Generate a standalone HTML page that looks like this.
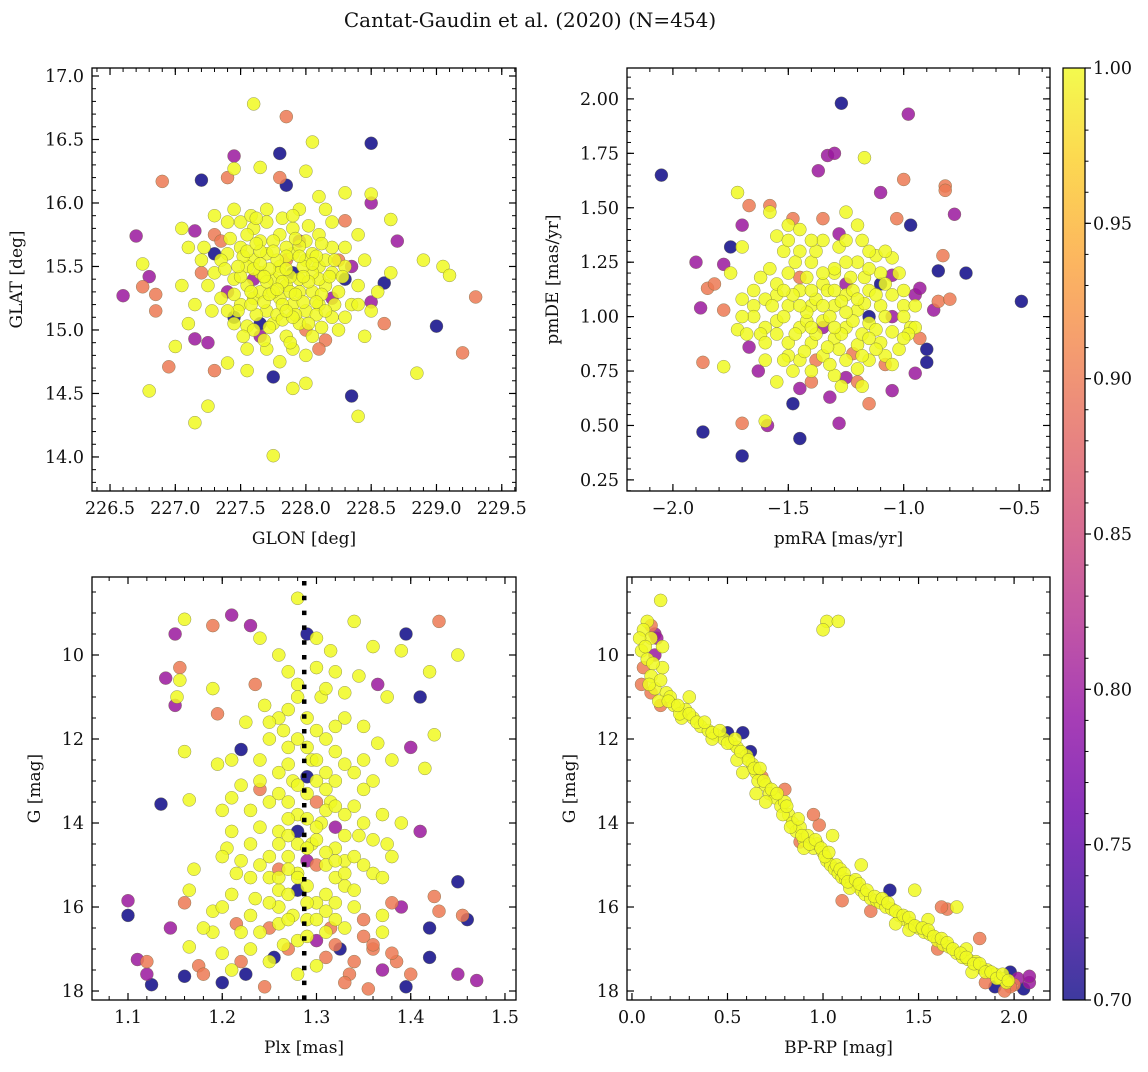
<!DOCTYPE html>
<html><head><meta charset="utf-8"><style>
body{margin:0;background:#fff;}
svg text{font-family:"DejaVu Serif","Liberation Serif",serif;fill:#111;}
</style></head><body>
<svg id="fig" width="1148" height="1067" viewBox="0 0 1148 1067" xmlns="http://www.w3.org/2000/svg">
<defs>
<linearGradient id="plasmaGrad" x1="0" y1="1" x2="0" y2="0">
<stop offset="0" stop-color="#0d0887"/><stop offset="0.1" stop-color="#41049d"/><stop offset="0.2" stop-color="#6a00a8"/><stop offset="0.3" stop-color="#8f0da4"/><stop offset="0.4" stop-color="#b12a90"/><stop offset="0.5" stop-color="#cc4778"/><stop offset="0.6" stop-color="#e16462"/><stop offset="0.7" stop-color="#f2844b"/><stop offset="0.8" stop-color="#fca636"/><stop offset="0.9" stop-color="#fcce25"/><stop offset="1" stop-color="#f0f921"/>
</linearGradient>
</defs>
<text x="530" y="27" text-anchor="middle" font-size="20">Cantat-Gaudin et al. (2020) (N=454)</text>
</svg>
<script>
// ---- data: [x, y, membership probability] ----
const skyPoints = [[227.6,16.78,1],[227.85,16.68,0.9],[228.05,16.48,1],[228.5,16.47,0.7],[227.45,16.37,0.8],[227.8,16.39,0.7],[227.2,16.18,0.7],[226.9,16.17,0.9],[227.4,16.2,0.9],[227.45,16.27,1],[227.65,16.28,1],[228.0,16.25,1],[227.8,16.2,0.9],[227.85,16.14,0.7],[228.5,16.07,1],[228.3,16.08,1],[228.5,16.0,0.8],[228.1,16.05,1],[226.7,15.74,0.8],[226.75,15.52,1],[226.8,15.42,0.8],[226.75,15.34,0.9],[226.6,15.27,0.8],[226.85,15.28,0.9],[226.85,15.15,0.9],[227.05,15.8,1],[227.15,15.78,0.8],[227.3,15.75,0.9],[227.0,14.87,1],[226.95,14.71,0.9],[226.8,14.52,1],[227.15,14.27,1],[227.25,14.4,1],[227.3,14.68,0.9],[227.4,14.74,1],[227.55,14.68,1],[227.75,14.63,0.7],[227.75,14.01,1],[227.9,14.54,1],[228.0,14.58,1],[228.35,14.48,0.7],[228.4,14.32,1],[228.15,14.92,0.9],[228.6,15.05,0.9],[228.6,15.37,0.7],[228.65,15.45,1],[228.7,15.7,0.8],[228.65,15.87,1],[228.9,15.55,1],[229.0,15.03,0.7],[229.05,15.5,1],[229.1,15.43,1],[229.2,14.82,0.9],[229.3,15.26,0.9],[228.85,14.66,1],[228.3,15.86,0.9],[228.5,15.22,0.8],[227.1,15.05,1],[227.15,14.93,0.8],[227.25,14.9,0.8],[227.45,15.1,0.7],[227.55,15.03,1],[227.65,15.05,0.7],
[227.5,15.85,1],[227.6,15.8,1],[227.7,15.85,1],[227.8,15.75,1],[227.9,15.8,1],[228.0,15.7,1],[228.1,15.75,1],[228.2,15.65,1],[227.4,15.6,1],[227.5,15.65,1],[227.6,15.55,1],[227.7,15.6,1],[227.8,15.5,1],[227.9,15.6,1],[228.0,15.55,1],[228.1,15.5,1],[228.2,15.45,1],[228.3,15.5,1],[227.3,15.45,1],[227.45,15.4,1],[227.55,15.35,1],[227.65,15.45,1],[227.75,15.4,1],[227.85,15.35,1],[227.95,15.4,1],[228.05,15.3,1],[228.15,15.35,1],[228.25,15.3,1],[228.4,15.35,1],[227.35,15.25,1],[227.5,15.2,1],[227.6,15.25,1],[227.7,15.15,1],[227.8,15.25,1],[227.9,15.2,1],[228.0,15.15,1],[228.1,15.2,1],[228.2,15.1,1],[228.35,15.2,1],[227.45,15.05,1],[227.6,15.0,1],[227.75,15.05,1],[227.85,14.95,1],[227.95,15.05,1],[228.05,14.95,1],[228.25,15.0,1],[227.7,14.85,1],[227.9,14.85,1],[228.0,14.8,1],[227.55,14.85,1],[227.8,14.75,1],[227.2,15.55,1],[227.1,15.65,1],[227.25,15.35,1],[227.15,15.2,1],[227.05,15.35,1],[228.45,15.55,1],[228.5,15.15,1],[228.55,15.3,1],[228.45,14.95,1],[228.3,15.65,1],[228.4,15.75,1],[227.3,15.9,1],[227.4,15.85,1],[227.95,15.95,1],[228.2,15.85,1],[227.65,15.7,1],[227.85,15.65,1],[228.05,15.6,1],[227.75,15.3,1],[227.65,15.3,1],[227.95,15.3,1],[228.1,15.4,1],[227.55,15.5,1],[227.35,15.55,1],[228.15,15.55,1],[227.8,15.45,1],[228.25,15.55,0.9],[227.85,15.55,0.9],[227.35,15.7,0.9],[227.6,15.4,0.8],[228.2,15.25,0.8],[227.9,15.45,0.7],[228.35,15.5,0.8],[227.2,15.45,0.9],[228.0,15.0,0.9],[227.65,14.95,0.8],[228.1,14.85,0.9],[227.4,15.3,0.8],[227.3,15.6,0.7],[227.95,15.7,0.8],[228.3,15.4,0.7]];
const skyCore = [[227.55,15.75,1],[227.65,15.62,1],[227.75,15.7,1],[227.85,15.58,1],[227.95,15.66,1],[228.05,15.45,1],[227.6,15.48,1],[227.7,15.38,1],[227.78,15.55,1],[227.88,15.42,1],[227.98,15.5,1],[228.08,15.58,1],[227.5,15.42,1],[227.58,15.3,1],[227.68,15.22,1],[227.78,15.12,1],[227.88,15.3,1],[227.98,15.22,1],[228.08,15.12,1],[228.18,15.42,1],[227.42,15.72,1],[227.52,15.58,1],[227.72,15.48,1],[227.82,15.38,1],[227.92,15.28,1],[228.02,15.38,1],[228.12,15.28,1],[228.22,15.2,1],[227.48,15.15,1],[227.62,15.12,1],[227.72,15.02,1],[227.82,15.08,1],[227.92,15.12,1],[228.02,15.05,1],[227.38,15.48,1],[227.45,15.28,1],[227.58,15.9,1],[227.7,15.95,1],[227.82,15.88,1],[227.92,15.72,1],[228.02,15.82,1],[228.12,15.68,1],[228.22,15.55,1],[228.28,15.42,1],[227.65,15.52,1],[227.75,15.62,1],[227.85,15.48,1],[227.95,15.58,1],[228.05,15.52,1],[227.55,15.62,1],[227.62,15.68,1],[227.72,15.28,1],[227.82,15.2,1],[227.9,15.1,1],[228.15,15.15,1],[227.4,15.15,1],[227.52,14.95,1],[227.68,14.92,1],[227.88,14.9,1],[228.12,15.02,1],[228.3,15.1,1],[228.4,15.2,1],[227.28,15.15,1],[227.22,15.65,1],[227.45,15.95,1],[227.62,15.88,1],[227.9,15.9,1],[228.15,15.95,1],[227.78,15.32,1],[227.68,15.42,1],[227.58,15.2,1],[227.98,15.42,1],[228.08,15.22,1],[227.85,15.15,1],[227.48,15.5,1]];
const pmPoints = [[-1.27,1.98,0.7],[-0.98,1.93,0.8],[-2.05,1.65,0.7],[-1.33,1.74,0.8],[-1.3,1.75,0.8],[-1.17,1.73,1],[-1.37,1.67,0.8],[-1.1,1.57,0.8],[-0.82,1.6,0.9],[-0.82,1.58,0.9],[-1.0,1.63,0.9],[-1.72,1.57,1],[-1.67,1.51,0.9],[-1.58,1.51,0.9],[-0.78,1.47,0.8],[-1.03,1.45,0.9],[-0.97,1.42,0.7],[-1.58,1.48,1],[-1.75,1.32,0.7],[-1.7,1.42,0.8],[-1.7,1.32,1],[-1.9,1.25,0.8],[-1.78,1.24,0.8],[-0.73,1.2,0.7],[-0.85,1.21,0.7],[-0.83,1.28,0.9],[-0.49,1.07,0.7],[-0.85,1.07,0.9],[-0.8,1.08,0.9],[-0.87,1.03,0.8],[-1.88,1.04,0.8],[-1.85,1.13,0.9],[-1.82,1.15,0.9],[-1.78,1.03,0.9],[-1.87,0.79,0.9],[-1.78,0.77,1],[-1.72,0.94,1],[-1.67,0.86,0.8],[-1.63,0.75,0.8],[-1.6,0.52,1],[-1.59,0.5,0.8],[-1.7,0.51,0.9],[-1.87,0.47,0.7],[-1.7,0.36,0.7],[-1.45,0.44,0.7],[-1.48,0.6,0.7],[-1.45,0.67,0.8],[-1.4,0.7,0.9],[-1.32,0.63,0.8],[-1.28,0.51,0.8],[-1.25,0.72,0.8],[-1.2,0.7,0.9],[-1.15,0.6,0.9],[-1.08,0.78,0.9],[-1.05,0.66,0.8],[-0.95,0.74,0.8],[-0.9,0.79,0.7],[-0.9,0.85,0.7],[-0.93,0.9,0.9],[-0.97,0.95,1],[-0.95,0.95,1],[-0.95,1.1,0.8],[-0.93,1.13,0.8],[-1.05,1.19,0.8],[-1.3,1.2,1],[-1.55,1.37,1],[-1.5,1.42,1],[-1.48,1.45,0.9],[-1.25,1.48,1],[-1.52,1.3,1],[-1.55,1.1,1],[-1.65,1.12,1],[-1.7,1.08,1],[-1.65,1.05,1],[-1.6,0.95,1],[-1.05,1.27,1],[-1.0,1.05,1],
[-1.5,1.2,1],[-1.4,1.25,1],[-1.3,1.22,1],[-1.2,1.25,1],[-1.1,1.2,1],[-1.55,1.15,1],[-1.45,1.12,1],[-1.35,1.15,1],[-1.25,1.1,1],[-1.15,1.12,1],[-1.05,1.1,1],[-1.5,1.05,1],[-1.4,1.05,1],[-1.3,1.05,1],[-1.2,1.03,1],[-1.1,1.05,1],[-1.0,1.0,1],[-1.55,0.98,1],[-1.45,0.95,1],[-1.35,0.98,1],[-1.25,0.95,1],[-1.15,0.97,1],[-1.05,0.93,1],[-1.5,0.88,1],[-1.4,0.88,1],[-1.3,0.9,1],[-1.2,0.87,1],[-1.1,0.88,1],[-1.45,0.8,1],[-1.35,0.82,1],[-1.25,0.8,1],[-1.15,0.8,1],[-1.4,0.75,1],[-1.3,0.73,1],[-1.2,0.76,1],[-1.6,1.08,1],[-1.62,0.92,1],[-1.65,1.0,1],[-1.0,1.12,1],[-0.95,1.05,1],[-1.28,1.32,1],[-1.38,1.3,1],[-1.18,1.35,1],[-1.12,1.28,1],[-1.45,1.3,1],[-1.33,1.12,1],[-1.23,1.18,1],[-1.42,0.98,1],[-1.18,0.92,1],[-1.28,0.85,1],[-1.5,0.82,1],[-1.08,0.82,1],[-1.55,0.7,1],[-1.6,0.8,1],[-1.7,1.0,1],[-1.75,1.2,1],[-1.45,1.4,1],[-1.2,1.42,1],[-1.02,0.85,1],[-0.98,0.92,1],[-1.35,1.45,0.9],[-1.25,1.15,0.8],[-1.15,1.0,0.7],[-1.35,0.95,0.8],[-1.45,1.18,0.9],[-1.05,1.0,0.8],[-1.22,0.83,0.9],[-1.1,1.15,0.7],[-1.28,1.38,0.8],[-1.38,0.8,0.9]];
const pmCore = [[-1.48,1.1,1],[-1.42,1.18,1],[-1.38,1.08,1],[-1.32,1.0,1],[-1.27,1.07,1],[-1.22,0.98,1],[-1.17,1.06,1],[-1.12,0.94,1],[-1.38,0.92,1],[-1.33,0.86,1],[-1.27,0.92,1],[-1.22,1.12,1],[-1.17,1.18,1],[-1.42,1.02,1],[-1.47,0.92,1],[-1.52,1.0,1],[-1.57,1.05,1],[-1.52,1.12,1],[-1.47,1.25,1],[-1.35,1.2,1],[-1.25,1.25,1],[-1.15,1.22,1],[-1.08,1.15,1],[-1.08,1.0,1],[-1.12,0.85,1],[-1.18,0.82,1],[-1.32,0.78,1],[-1.43,0.84,1],[-1.48,0.75,1],[-1.35,1.35,1],[-1.25,1.35,1],[-1.4,1.35,1],[-1.58,1.22,1],[-1.6,0.88,1],[-1.52,0.8,1],[-1.27,0.68,1],[-1.18,0.68,1],[-1.05,0.78,1],[-1.0,0.9,1],[-1.3,1.12,1],[-1.2,1.08,1],[-1.4,1.12,1],[-1.35,1.05,1],[-1.25,1.02,1],[-1.3,0.95,1],[-1.4,0.95,1],[-1.15,0.9,1],[-1.45,1.05,1],[-1.55,0.92,1],[-1.12,1.1,1],[-1.62,1.18,1],[-1.68,0.92,1],[-1.02,1.2,1],[-1.08,1.3,1],[-1.15,1.3,1],[-1.5,1.35,1]];
const plxPoints = [[1.1,15.85,0.8],[1.1,16.2,0.7],[1.11,17.25,0.8],[1.12,17.3,0.9],[1.125,17.85,0.7],[1.12,17.6,0.8],[1.135,13.55,0.7],[1.14,10.55,0.8],[1.145,16.5,0.8],[1.15,11.2,0.8],[1.15,9.5,0.8],[1.155,10.3,0.9],[1.16,9.15,1],[1.16,12.3,1],[1.165,13.45,1],[1.155,10.6,1],[1.152,11.0,1],[1.16,15.9,0.9],[1.165,15.6,1],[1.17,15.1,1],[1.16,17.65,0.7],[1.165,16.95,1],[1.175,17.4,0.9],[1.18,17.6,0.9],[1.19,9.3,0.9],[1.19,10.8,1],[1.19,16.1,1],[1.2,17.8,0.7],[1.2,17.1,1],[1.195,11.4,0.9],[1.195,12.6,1],[1.2,13.7,1],[1.205,14.6,1],[1.21,12.5,1],[1.21,9.05,0.8],[1.215,16.4,0.9],[1.215,15.2,1],[1.22,12.25,0.7],[1.22,13.1,1],[1.225,11.6,1],[1.225,17.6,0.7],[1.23,9.3,0.8],[1.23,14.5,1],[1.235,10.7,0.9],[1.235,15.8,1],[1.24,9.6,1],[1.24,13.2,0.9],[1.245,11.2,1],[1.245,17.9,0.9],[1.25,12.0,1],[1.25,13.5,1],[1.25,16.5,0.9],[1.255,17.2,0.7],[1.26,10.0,1],[1.26,14.2,1],[1.26,15.6,1],[1.265,11.8,1],[1.265,16.9,1],[1.27,12.6,1],[1.27,14.8,1],[1.275,13.0,1],[1.275,16.2,1],[1.28,8.65,1],[1.28,10.7,1],[1.28,13.8,1],[1.28,15.2,1],[1.28,17.6,1],[1.29,9.5,0.7],[1.29,11.5,1],[1.295,12.5,1],[1.295,14.5,1],[1.3,10.3,1],[1.3,13.0,1],[1.3,15.9,1],[1.3,16.8,0.8],[1.305,11.0,1],[1.305,14.0,1],[1.31,12.0,1],[1.31,15.0,1],[1.31,17.2,0.9],[1.315,9.9,1],[1.315,13.5,1],[1.315,16.5,0.9],[1.32,10.4,1],[1.32,12.3,1],[1.32,14.6,1],[1.325,17.0,0.7],[1.33,11.5,1],[1.33,13.8,1],[1.33,15.5,1],[1.335,17.6,0.9],[1.34,9.2,1],[1.34,12.8,1],[1.34,16.0,1],[1.345,10.5,1],[1.345,14.3,1],[1.35,11.7,1],[1.35,13.2,1],[1.35,16.7,0.9],[1.355,17.95,0.9],[1.36,9.8,1],[1.36,15.2,1],[1.36,17.0,0.9],[1.365,10.7,0.8],[1.365,12.1,1],[1.37,13.8,1],[1.37,16.2,1],[1.375,11.0,1],[1.375,14.5,1],[1.38,12.5,1],[1.38,15.9,0.9],[1.385,17.3,0.9],[1.39,9.9,1],[1.39,14.0,1],[1.39,16.0,0.8],[1.395,9.5,0.7],[1.395,17.9,0.7],[1.4,12.2,0.8],[1.4,17.6,0.9],[1.41,11.0,0.7],[1.41,14.2,0.8],[1.415,12.7,1],[1.42,10.4,1],[1.42,16.5,0.7],[1.42,17.2,0.7],[1.425,11.9,1],[1.425,15.75,0.9],[1.43,9.2,0.9],[1.43,16.1,0.9],[1.45,10.0,1],[1.45,15.4,0.7],[1.45,17.6,0.8],[1.455,16.2,0.9],[1.46,16.3,0.7],[1.47,17.75,0.8],
[1.24,12.5,1],[1.25,14.8,1],[1.26,13.3,1],[1.27,15.7,1],[1.28,12.0,1],[1.29,13.3,1],[1.29,16.3,1],[1.3,14.4,1],[1.3,12.5,1],[1.31,13.7,1],[1.31,16.1,1],[1.32,15.3,1],[1.32,13.0,1],[1.33,14.9,1],[1.33,12.6,1],[1.34,15.6,1],[1.34,13.6,1],[1.27,13.9,1],[1.26,16.0,1],[1.25,15.3,1],[1.24,16.6,1],[1.23,13.7,1],[1.22,14.9,1],[1.21,15.7,1],[1.23,16.2,1],[1.28,14.5,1],[1.29,15.5,1],[1.3,16.3,1],[1.31,14.7,1],[1.33,16.5,1],[1.35,14.0,1],[1.36,13.0,1],[1.37,15.3,1],[1.27,11.3,1],[1.26,12.8,1],[1.28,16.8,1],[1.25,17.3,1],[1.3,17.4,1],[1.32,16.9,0.9],[1.34,17.3,0.9],[1.27,17.0,0.9],[1.29,12.9,0.7],[1.28,14.2,0.7],[1.29,14.9,0.8],[1.3,13.5,0.9],[1.32,14.1,0.8],[1.26,15.1,0.9],[1.28,15.6,0.7],[1.3,15.0,0.9],[1.35,16.3,0.9],[1.36,16.9,0.9],[1.38,17.1,0.9],[1.37,17.5,0.8],[1.33,17.8,0.9],[1.22,17.3,0.9],[1.21,17.5,1],[1.19,16.6,1],[1.18,16.5,1],[1.2,16.0,1],[1.24,15.0,1]];
const plxCore = [[1.26,11.5,1],[1.27,12.2,1],[1.29,12.2,1],[1.3,11.8,1],[1.31,12.8,1],[1.32,11.7,1],[1.28,13.1,1],[1.27,13.5,1],[1.29,13.9,1],[1.31,13.2,1],[1.32,13.6,1],[1.26,14.5,1],[1.27,14.3,1],[1.29,14.6,1],[1.3,14.1,1],[1.32,14.9,1],[1.33,14.3,1],[1.26,15.3,1],[1.27,15.1,1],[1.28,15.3,1],[1.29,15.9,1],[1.31,15.7,1],[1.32,15.9,1],[1.33,15.2,1],[1.25,15.9,1],[1.26,16.4,1],[1.27,16.3,1],[1.29,16.7,1],[1.31,16.6,1],[1.32,16.3,1],[1.24,14.1,1],[1.23,15.3,1],[1.22,16.6,1],[1.21,14.2,1],[1.34,14.8,1],[1.35,15.0,1],[1.36,14.4,1],[1.35,12.5,1],[1.24,13.0,1],[1.25,11.6,1],[1.28,11.0,1],[1.31,10.8,1],[1.3,9.6,1],[1.27,10.4,1],[1.33,10.9,1],[1.21,13.4,1],[1.2,14.8,1],[1.38,14.8,1],[1.37,16.6,1],[1.23,17.0,1]];
const cmdPoints = [[0.08,9.2,1],[0.1,9.3,0.9],[0.12,9.5,0.8],[0.13,9.6,0.8],[0.06,9.4,1],[0.1,9.6,1],[0.15,8.7,1],[0.16,9.8,1],[0.05,9.9,1],[0.08,10.1,1],[0.12,10.0,0.8],[0.06,10.3,0.9],[0.1,10.5,1],[0.16,10.3,1],[0.05,10.7,0.9],[0.12,10.8,1],[0.18,10.9,1],[0.14,11.1,1],[0.15,11.2,0.9],[0.2,11.0,1],[0.22,11.2,1],[0.28,11.3,1],[0.3,11.0,1],[0.26,11.5,1],[0.32,11.5,1],[0.36,11.7,1],[0.4,11.8,1],[0.44,11.9,1],[0.48,12.0,1],[0.52,12.1,1],[0.55,12.2,1],[0.58,11.85,0.7],[0.62,12.3,0.7],[0.6,12.4,1],[0.63,12.6,1],[0.65,12.8,1],[0.66,13.0,1],[0.68,12.9,0.9],[0.7,13.1,1],[0.72,13.3,1],[0.65,13.3,1],[0.75,13.4,1],[0.78,13.6,1],[0.8,13.5,1],[0.82,13.8,1],[0.84,14.0,1],[0.86,14.2,1],[0.88,14.1,1],[0.9,14.4,1],[0.92,14.3,1],[0.95,14.6,1],[0.97,14.5,1],[1.0,14.7,1],[1.02,14.9,1],[1.04,15.0,1],[1.06,15.1,1],[1.08,15.2,1],[1.1,15.3,1],[1.12,15.35,1],[1.15,15.4,1],[1.18,15.5,1],[1.2,15.6,1],[1.22,15.7,1],[1.25,15.8,1],[1.28,15.85,1],[1.3,15.9,1],[1.33,16.0,1],[1.36,16.05,1],[1.4,16.2,1],[1.43,16.3,1],[1.46,16.4,1],[1.5,16.5,1],[1.53,16.6,1],[1.56,16.65,1],[1.6,16.8,1],[1.63,16.9,1],[1.66,16.95,1],[1.7,17.1,1],[1.73,17.2,1],[1.76,17.25,1],[1.8,17.3,1],[1.83,17.45,1],[1.86,17.5,1],[1.9,17.6,1],[1.93,17.7,1],[1.96,17.8,1],[2.0,17.85,0.9],[2.02,17.7,0.8],[2.05,17.95,0.7],[2.08,17.8,0.8],[2.08,17.65,0.8],[1.98,17.55,0.7],[1.98,17.9,0.9],[1.95,18.0,0.9],[1.9,17.9,0.7],[1.85,17.8,0.9],[1.82,16.75,0.9],[1.7,16.0,1],[1.65,16.05,0.9],[1.62,16.0,0.9],[1.48,15.6,1],[1.35,15.6,0.7],[1.2,15.0,1],[1.1,15.85,0.9],[1.05,14.3,1],[0.98,14.05,0.9],[0.95,13.8,0.9],[0.8,13.2,0.9],[0.58,12.8,1],[0.55,12.5,1],[0.1,10.9,0.9],[1.02,9.2,1],[1.0,9.4,1],[1.08,9.2,1],[0.42,12.0,1],[0.5,11.85,0.7],[1.25,16.1,0.9],[1.38,16.4,1],[1.55,16.3,1],[1.75,17.0,1],[0.25,11.4,1],[0.7,13.5,1],[0.9,14.6,1],[1.14,15.55,1],[1.45,16.55,1],[1.6,17.0,0.9],[1.78,17.55,1],[0.88,14.45,0.9]];
const cmdCore = [[0.04,9.6,1],[0.07,9.8,1],[0.11,10.2,1],[0.09,10.7,1],[0.15,10.6,1],[0.19,11.1,1],[0.24,11.2,1],[0.3,11.4,1],[0.34,11.6,1],[0.38,11.6,1],[0.42,11.85,1],[0.46,11.8,1],[0.5,12.1,1],[0.54,12.0,1],[0.57,12.3,1],[0.61,12.5,1],[0.64,12.7,1],[0.67,12.7,1],[0.69,13.0,1],[0.73,13.2,1],[0.76,13.3,1],[0.79,13.8,1],[0.81,13.6,1],[0.83,14.1,1],[0.87,13.9,1],[0.89,14.3,1],[0.93,14.5,1],[0.96,14.4,1],[0.99,14.6,1],[1.01,14.8,1],[1.03,14.7,1],[1.07,15.0,1],[1.09,15.1,1],[1.11,15.2,1],[1.13,15.4,1],[1.17,15.35,1],[1.19,15.45,1],[1.23,15.6,1],[1.27,15.75,1],[1.31,15.8,1],[1.34,15.9,1],[1.38,16.1,1],[1.42,16.2,1],[1.45,16.25,1],[1.48,16.45,1],[1.52,16.5,1],[1.55,16.55,1],[1.58,16.7,1],[1.62,16.75,1],[1.65,16.85,1],[1.68,17.0,1],[1.72,17.1,1],[1.75,17.2,1],[1.79,17.35,1],[1.82,17.35,1],[1.85,17.55,1],[1.88,17.55,1],[1.91,17.7,1],[1.94,17.6,1],[1.97,17.75,1]];
const plxCenter = [1.287];
const skyXTicks = [226.5,227.0,227.5,228.0,228.5,229.0,229.5];
const skyYTicks = [14.0,14.5,15.0,15.5,16.0,16.5,17.0];
const pmXTicks = [-2.0,-1.5,-1.0,-0.5];
const pmYTicks = [0.25,0.5,0.75,1.0,1.25,1.5,1.75,2.0];
const plxXTicks = [1.1,1.2,1.3,1.4,1.5];
const gTicks = [10,12,14,16,18];
const cmdXTicks = [0.0,0.5,1.0,1.5,2.0];
const cbarTicks = [0.70,0.75,0.80,0.85,0.90,0.95,1.00];

const NS = 'http://www.w3.org/2000/svg';
const svg = document.getElementById('fig');
function mk(tag, attrs, parent){const e=document.createElementNS(NS,tag);for(const k in attrs)e.setAttribute(k,attrs[k]);(parent||svg).appendChild(e);return e;}
const plasma=[[13,8,135],[65,4,157],[106,0,168],[143,13,164],[177,42,144],[204,71,120],[225,100,98],[242,132,75],[252,166,54],[252,206,37],[240,249,33]];
function cmap(p){let t=(p-0.7)/0.3;t=Math.max(0,Math.min(1,t));const f=t*10,i=Math.min(9,Math.floor(f)),r=f-i;const a=plasma[i],b=plasma[i+1];return 'rgb('+a.map((v,k)=>Math.round(v+(b[k]-v)*r)).join(',')+')';}
function lin(d0,d1,r0,r1){return v=>r0+(v-d0)/(d1-d0)*(r1-r0);}

function panel(cfg){
  const g=mk('g',{});
  
  
  const {x0,x1,y0,y1}=cfg.box;
  const sx=lin(cfg.xd[0],cfg.xd[1],x0,x1), sy=lin(cfg.yd[0],cfg.yd[1],y1,y0);
  const clipId='clip-'+cfg.name;
  const cp=mk('clipPath',{id:clipId},g);mk('rect',{x:x0,y:y0,width:x1-x0,height:y1-y0},cp);
  const pts=mk('g',{'clip-path':'url(#'+clipId+')'},g);
  const sorted=cfg.points.slice().sort((a,b)=>a[2]-b[2]);
  sorted.forEach(d=>{
    const c=mk('circle',{cx:sx(d[0]),cy:sy(d[1]),r:6.5,fill:cmap(d[2]),'fill-opacity':0.85,stroke:'#6b6b40','stroke-width':0.5,'stroke-opacity':0.7},pts);
    
    
  });
  if(cfg.vline){
    const l=mk('line',{x1:sx(cfg.vline[0]),x2:sx(cfg.vline[0]),y1:y0+4,y2:y1,stroke:'#000','stroke-width':4.5,'stroke-dasharray':'4.5,10.3'},pts);
    
    
  }
  const mx=[],my=[];
  for(let v=Math.ceil(cfg.xd[0]/cfg.xm-1e-6)*cfg.xm; v<=cfg.xd[1]+1e-9; v+=cfg.xm) mx.push(v);
  const ylo=Math.min(...cfg.yd), yhi=Math.max(...cfg.yd);
  for(let v=Math.ceil(ylo/cfg.ym-1e-6)*cfg.ym; v<=yhi+1e-9; v+=cfg.ym) my.push(v);
  mx.forEach(v=>{const X=sx(v);mk('line',{x1:X,x2:X,y1:y1,y2:y1-4,stroke:'#000','stroke-width':1},g);mk('line',{x1:X,x2:X,y1:y0,y2:y0+4,stroke:'#000','stroke-width':1},g);});
  my.forEach(v=>{const Y=sy(v);mk('line',{x1:x0,x2:x0+4,y1:Y,y2:Y,stroke:'#000','stroke-width':1},g);mk('line',{x1:x1,x2:x1-4,y1:Y,y2:Y,stroke:'#000','stroke-width':1},g);});
  cfg.xt.forEach(v=>{const X=sx(v);mk('line',{x1:X,x2:X,y1:y1,y2:y1-7,stroke:'#000','stroke-width':1.2},g);mk('line',{x1:X,x2:X,y1:y0,y2:y0+7,stroke:'#000','stroke-width':1.2},g);
    const t=mk('text',{x:X,y:y1+23,'text-anchor':'middle','font-size':17.5},g);t.textContent=cfg.xf(v);
    
    });
  cfg.yt.forEach(v=>{const Y=sy(v);mk('line',{x1:x0,x2:x0+7,y1:Y,y2:Y,stroke:'#000','stroke-width':1.2},g);mk('line',{x1:x1,x2:x1-7,y1:Y,y2:Y,stroke:'#000','stroke-width':1.2},g);
    const t=mk('text',{x:x0-8,y:Y+6,'text-anchor':'end','font-size':17.5},g);t.textContent=cfg.yf(v);
    
    });
  mk('rect',{x:x0,y:y0,width:x1-x0,height:y1-y0,fill:'none',stroke:'#000','stroke-width':1.3},g);
  const xl=mk('text',{x:(x0+x1)/2,y:y1+53,'text-anchor':'middle','font-size':17},g);xl.textContent=cfg.xl;
  
  
  const yx=cfg.ylx, yy=(y0+y1)/2;
  const yl=mk('text',{x:yx,y:yy,'text-anchor':'middle','font-size':17,transform:'rotate(-90 '+yx+' '+yy+')'},g);yl.textContent=cfg.yl;
  
  
}
const f1=v=>v.toFixed(1), f2=v=>v.toFixed(2), f0=v=>v.toFixed(0), fm=v=>(v<0?'\u2212':'')+Math.abs(v).toFixed(1);
panel({name:'sky-panel',box:{x0:92,x1:516,y0:68,y1:491},xd:[226.362,229.609],yd:[13.732,17.063],xt:skyXTicks,yt:skyYTicks,xm:0.1,ym:0.1,xf:f1,yf:f1,points:skyPoints.concat(skyCore),xl:'GLON [deg]',yl:'GLAT [deg]',ylx:22});
panel({name:'proper-motion-panel',box:{x0:627,x1:1050,y0:68,y1:491},xd:[-2.199,-0.366],yd:[0.199,2.142],xt:pmXTicks,yt:pmYTicks,xm:0.1,ym:0.05,xf:fm,yf:f2,points:pmPoints.concat(pmCore),xl:'pmRA [mas/yr]',yl:'pmDE [mas/yr]',ylx:558});
panel({name:'parallax-panel',box:{x0:92,x1:516,y0:577,y1:1000},xd:[1.0618,1.5117],yd:[18.214,8.143],xt:plxXTicks,yt:gTicks,xm:0.02,ym:0.5,xf:f1,yf:f0,points:plxPoints.concat(plxCore),vline:plxCenter,xl:'Plx [mas]',yl:'G [mag]',ylx:40});
panel({name:'cmd-panel',box:{x0:627,x1:1050,y0:577,y1:1000},xd:[-0.026,2.188],yd:[18.214,8.143],xt:cmdXTicks,yt:gTicks,xm:0.1,ym:0.5,xf:f1,yf:f0,points:cmdPoints.concat(cmdCore),xl:'BP-RP [mag]',yl:'G [mag]',ylx:575});

const cb=mk('g',{});


const cy0=68,cy1=1000,cx0=1063,cx1=1085;
mk('rect',{x:cx0,y:cy0,width:cx1-cx0,height:cy1-cy0,fill:'url(#plasmaGrad)','fill-opacity':0.8},cb);
const cs=lin(0.7,1.0,cy1,cy0);
for(let v=0.70; v<=1.0001; v+=0.01){const Y=cs(v);mk('line',{x1:cx1,x2:cx1+3.5,y1:Y,y2:Y,stroke:'#000','stroke-width':1},cb);}
cbarTicks.forEach(v=>{const Y=cs(v);mk('line',{x1:cx1,x2:cx1+6,y1:Y,y2:Y,stroke:'#000','stroke-width':1.2},cb);
  const t=mk('text',{x:cx1+8,y:Y+6,'font-size':17.5},cb);t.textContent=v.toFixed(2);
  
  });
mk('rect',{x:cx0,y:cy0,width:cx1-cx0,height:cy1-cy0,fill:'none',stroke:'#000','stroke-width':1.2},cb);
</script>
</body></html>
